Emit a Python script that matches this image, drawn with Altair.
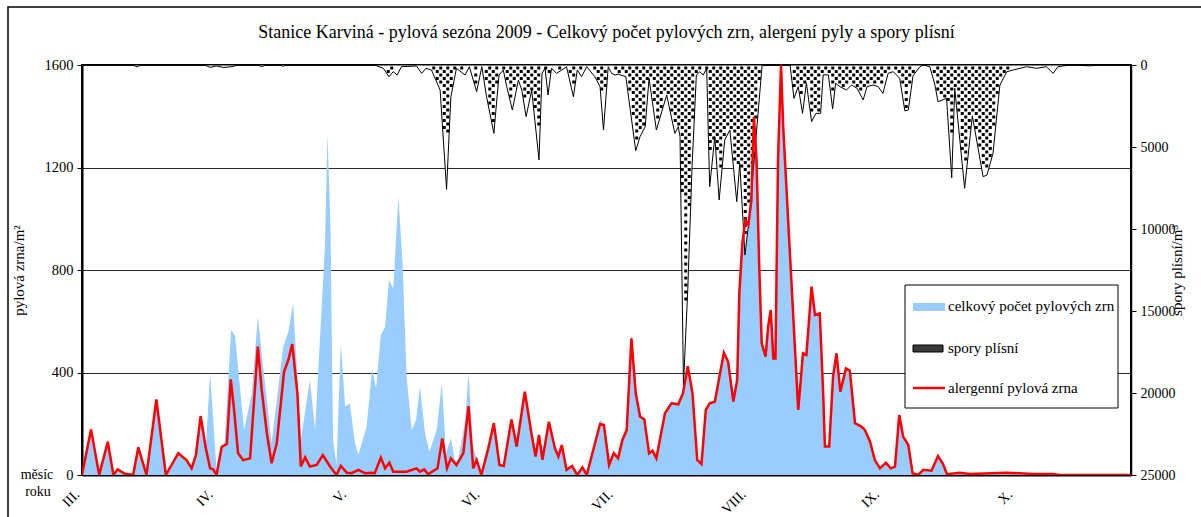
import altair as alt
import numpy as np
import pandas as pd

FONT = "Liberation Serif"
TITLE = "Stanice Karviná - pylová sezóna 2009 - Celkový počet pylových zrn, alergení pyly a spory plísní"

# Season axis: day 0 = 1 March 2009, day 244 = 31 October 2009
month_days = [0, 31, 62, 93, 124, 155, 186, 217]
month_labels = ["III.", "IV.", "V.", "VI.", "VII.", "VIII.", "IX.", "X."]

# Allergenic pollen grains per m3 (red line)
alerg_day = [0, 2.1, 4.0, 6.0, 7.3, 8.3, 10.0, 11.9, 13.1, 15.0, 17.3, 19.5, 22.4, 24.3, 25.5, 26.5,
             27.6, 28.8, 29.8, 30.5, 31.3, 32.5, 33.7, 34.6, 35.3, 36.3, 37.5, 39.1, 40.9, 41.8, 43.0,
             44.1, 45.3, 47.0, 48.0, 48.9, 50.1, 50.9, 51.9, 53.0, 54.6, 56.0, 57.7, 59.2, 60.2, 61.6,
             62.7, 64.3, 65.8, 67.4, 68.1, 69.5, 70.5, 71.5, 72.4, 75.5, 77.8, 78.6, 79.6, 80.5, 82.7,
             83.8, 84.9, 85.8, 87.1, 88.7, 89.9, 91.0, 91.8, 92.9, 94.5, 95.8, 97.1, 98.1, 99.9, 101.1,
             103.0, 104.6, 105.5, 106.3, 107.1, 108.6, 110.0, 110.8, 111.6, 112.7, 114.0, 115.2, 116.4,
             117.4, 120.5, 121.4, 122.6, 123.7, 124.7, 125.7, 126.7, 127.8, 128.8, 129.8, 130.8, 131.9,
             132.7, 133.6, 135.6, 137.1, 138.7, 139.8, 140.9, 142.0, 143.1, 144.1, 145.1, 146.0, 147.2,
             149.3, 150.3, 151.5, 152.4, 152.9, 153.6, 154.3, 155.0, 155.7, 156.3, 156.9, 157.5, 158.1,
             159.0, 159.6, 160.2, 160.8, 161.3, 161.9, 162.6, 163.1, 164.7, 166.6, 167.7, 168.5, 169.7,
             170.5, 171.6, 172.4, 172.8, 173.8, 174.7, 175.5, 176.4, 177.7, 178.6, 179.8, 181.3, 182.1,
             183.3, 184.4, 185.6, 187.0, 188.1, 189.1, 190.1, 191.0, 192.2, 193.2, 194.5, 195.7, 197.6,
             199.1, 200.2, 201.2, 204.2, 206.5, 215.0, 218.1, 221.2, 225.8, 227.4, 244]
alerg_val = [0, 178, 0, 130, 0, 22, 5, 0, 108, 0, 295, 0, 85, 58, 26, 78,
             230, 104, 26, 22, 0, 110, 121, 373, 267, 85, 58, 65, 501, 332, 163,
             46, 124, 403, 449, 511, 319, 33, 69, 33, 39, 78, 33, 0, 35, 9,
             7, 20, 7, 9, 7, 68, 26, 48, 13, 13, 26, 13, 22, 3, 26,
             143, 26, 65, 39, 85, 269, 26, 59, 0, 104, 202, 39, 35, 217, 111,
             325, 156, 72, 156, 59, 208, 104, 72, 117, 20, 35, 0, 30,
             0, 199, 195, 39, 85, 65, 137, 176, 533, 319, 228, 217, 85,
             95, 65, 241, 280, 276, 319, 425, 319, 59, 43, 254, 280, 286,
             477, 442, 286, 371, 709, 904, 995, 976, 1073, 1398, 1229, 826, 514,
             462, 579, 644, 455, 455, 1229, 1600, 1359, 852, 254, 475, 469, 735,
             624, 631, 319, 111, 111, 384, 475, 325, 416, 407, 202, 189, 176,
             130, 59, 26, 48, 26, 33, 234, 150, 117, 7, 0, 20, 17,
             74, 46, 3, 9, 4, 9, 7, 4, 4, 0, 0]

# Total pollen grains per m3 (blue area)
total_day = [0, 2.1, 4.0, 6.0, 7.3, 8.3, 10.0, 11.9, 13.1, 15.0, 17.3, 19.5, 22.4, 24.3, 25.5, 26.5,
             27.6, 28.8, 29.8, 31.3, 33.2, 34.7, 35.6, 37.7, 39.5, 40.9, 41.8, 44.1, 46.8, 48.0, 49.1,
             50.3, 50.9, 53.0, 54.2, 55.3, 56.5, 57.1, 57.8, 58.4, 59.2, 60.2, 61.2, 62.3, 63.5, 64.3,
             66.2, 67.5, 68.4, 69.5, 70.5, 71.4, 72.4, 73.6, 74.6, 75.5, 76.7, 77.7, 78.6, 79.8, 80.8,
             82.5, 83.7, 84.7, 85.8, 86.7, 87.3, 89.1, 89.9, 90.9, 91.4, 92.9, 94.5, 95.8, 97.1, 98.1,
             99.9, 101.1, 103.0, 104.6, 105.5, 106.3, 107.1, 108.6, 110.0, 110.8, 111.6, 112.7, 114.0,
             115.2, 116.4, 117.4, 120.5, 121.4, 122.6, 123.7, 124.7, 125.7, 126.7, 127.8, 128.8, 129.8,
             130.8, 131.9, 132.7, 133.6, 135.6, 137.1, 138.7, 139.8, 140.9, 142.0, 143.1, 144.1, 145.1,
             146.0, 147.2, 149.3, 150.3, 151.5, 152.4, 152.9, 153.6, 154.3, 155.0, 155.7, 156.3, 156.9,
             157.5, 158.1, 159.0, 159.6, 160.2, 160.8, 161.3, 161.9, 162.6, 163.1, 164.7, 166.6, 167.7,
             168.5, 169.7, 170.5, 171.6, 172.4, 172.8, 173.8, 174.7, 175.5, 176.4, 177.7, 178.6, 179.8,
             181.3, 182.1, 183.3, 184.4, 185.6, 187.0, 188.1, 189.1, 190.1, 191.0, 192.2, 193.2, 194.5,
             195.7, 197.6, 199.1, 200.2, 201.2, 204.2, 206.5, 215.0, 218.1, 221.2, 225.8, 227.4, 244]
total_val = [0, 178, 0, 130, 0, 22, 5, 0, 108, 0, 295, 0, 85, 58, 26, 78,
             230, 104, 397, 20, 136, 566, 542, 176, 319, 618, 475, 124, 501, 559, 670,
             319, 137, 371, 176, 514, 891, 1333, 969, 137, 39, 514, 267, 280, 124, 78,
             189, 416, 338, 546, 579, 761, 728, 1086, 813, 384, 176, 215, 345, 163, 91,
             176, 358, 85, 143, 59, 45, 208, 397, 124, 85, 0, 104, 210, 39, 35,
             225, 111, 330, 156, 72, 156, 59, 212, 104, 72, 117, 20, 35,
             0, 30, 0, 215, 200, 39, 85, 65, 137, 176, 550, 325, 235,
             220, 85, 95, 65, 241, 285, 280, 325, 430, 319, 59, 43, 254,
             285, 290, 485, 442, 286, 371, 709, 904, 995, 976, 1073, 1398, 1229,
             826, 514, 462, 579, 644, 455, 455, 1229, 1600, 1359, 852, 254, 485,
             475, 745, 630, 635, 319, 111, 111, 384, 475, 325, 420, 410, 210,
             195, 180, 135, 59, 26, 48, 26, 33, 234, 150, 117, 7, 0,
             20, 17, 74, 46, 3, 9, 4, 9, 7, 4, 4, 0, 0]

# Mould spores per m3 (right axis, hanging from the top)
spore_day = [0, 11.9, 12.8, 13.7, 28.6, 29.8, 31.2, 33.0, 34.9, 36.3, 40.9, 41.8, 42.8, 46.3, 46.7,
             47.2, 68.1, 70.1, 71.4, 72.4, 73.3, 74.3, 77.8, 79.0, 80.0, 81.3, 83.3, 84.8, 85.8, 87.1,
             89.1, 90.1, 91.8, 93.0, 94.1, 95.8, 97.0, 98.0, 98.8, 100.1, 101.5, 102.3, 103.3, 104.6,
             106.3, 107.0, 107.7, 108.4, 109.2, 110.4, 111.6, 112.7, 114.3, 115.2, 116.2, 117.4, 119.3,
             120.5, 121.3, 122.4, 123.2, 124.0, 124.7, 126.5, 128.8, 129.8, 131.0, 131.9, 133.6, 135.2,
             136.0, 137.9, 138.7, 139.1, 139.9, 140.9, 141.9, 142.9, 143.7, 144.5, 145.3, 146.0, 147.2,
             148.2, 149.5, 150.7, 152.3, 153.0, 154.2, 155.2, 158.2, 164.7, 165.6, 166.6, 167.6, 168.5,
             169.7, 170.7, 171.8, 172.4, 173.6, 174.6, 175.3, 176.3, 177.8, 179.0, 180.3, 181.7, 182.6,
             184.0, 185.2, 186.3, 187.5, 188.7, 190.2, 191.4, 192.2, 193.3, 194.9, 195.7, 197.2, 198.4,
             199.1, 201.1, 202.3, 203.0, 205.3, 207.1, 209.6, 210.5, 211.9, 213.5, 215.1, 216.6, 219.7,
             222.0, 224.3, 225.9, 227.0, 229.8, 234.4, 236.7, 244]
spore_val = [0, 0, 120, 0, 0, 150, 60, 150, 100, 0, 0, 100, 0, 0, 100,
             0, 0, 203, 712, 407, 610, 102, 61, 508, 203, 305, 1525, 7580, 1932, 203,
             610, 102, 1626, 102, 1932, 4167, 610, 305, 1322, 2745, 915, 1525, 3150, 1525,
             5793, 508, 203, 1830, 203, 508, 305, 102, 1932, 305, 712, 102, 712,
             1322, 3964, 102, 508, 610, 560, 712, 5224, 4370, 3760, 813, 3964, 2542,
             1830, 4167, 3760, 4370, 19500, 13700, 6200, 610, 407, 610, 203, 7420, 4370,
             8230, 4573, 3964, 8335, 5996, 11590, 9350, 0, 0, 2033, 1322, 2948, 1100,
             3456, 2948, 2948, 600, 600, 2680, 1118, 1320, 1525, 1220, 1422, 2135, 1320,
             1220, 1322, 1728, 508, 407, 813, 2800, 2745, 650, 102, 0, 102, 1220,
             2236, 2033, 6880, 1423, 7520, 3100, 6810, 6710, 5390, 1220, 407, 305, 102,
             203, 102, 508, 102, 0, 50, 0, 0]

W, H = 1049, 410
DAY_MAX = 244
SPORE_MAX = 25000

alerg = pd.DataFrame({"den": alerg_day, "pyl": alerg_val})
total = pd.DataFrame({"den": total_day, "pyl": total_val})
spores = pd.DataFrame({"den": spore_day, "spory": spore_val})

# Dot texture for the spore area: a staggered grid of small squares kept
# only where it lies inside the spore curve
px_day = W / DAY_MAX
px_spore = H / SPORE_MAX
step_x = 7 / px_day
step_y = 3.5 / px_spore
half_x = 1.4 / px_day
half_y = 1.4 / px_spore
sd = np.array(spore_day, dtype=float)
sv = np.array(spore_val, dtype=float)
dot_x, dot_y = [], []
row = 0
yy = 3 / px_spore
while yy < sv.max():
    start = (row % 2) * step_x / 2 + step_x / 4
    for xx in np.arange(start, DAY_MAX, step_x):
        lim = min(np.interp(xx - half_x, sd, sv), np.interp(xx, sd, sv), np.interp(xx + half_x, sd, sv))
        if yy + half_y < lim:
            dot_x.append(xx)
            dot_y.append(yy)
    yy += step_y
    row += 1
dots = pd.DataFrame({"den": dot_x, "spory": dot_y})

label_expr = "[" + ",".join("'%s'" % m for m in month_labels) + "][round(datum.value / 31)]"

x_enc = alt.X(
    "den:Q",
    scale=alt.Scale(domain=[0, DAY_MAX], nice=False, zero=False),
    axis=alt.Axis(
        values=month_days, labelExpr=label_expr, labelAngle=315, labelAlign="right",
        labelBaseline="middle", ticks=False, labelPadding=17, labelOffset=-5, grid=False,
        domainColor="black", domainWidth=2, labelFont=FONT, labelFontSize=14,
        labelColor="black", title=None,
    ),
)

pollen_scale = alt.Scale(domain=[0, 1600], nice=False, zero=True)
spore_scale = alt.Scale(domain=[0, SPORE_MAX], nice=False, reverse=True)

left_axis = alt.Axis(
    orient="left", values=[0, 400, 800, 1200, 1600], format="d", grid=True, gridColor="#2a2a2a",
    gridWidth=1, domainColor="black", domainWidth=2, tickColor="black", tickSize=5,
    labelFont=FONT, labelFontSize=14.5, labelColor="black", labelPadding=4,
    title="pylová zrna/m²", titleFont=FONT, titleFontSize=15, titleFontWeight="normal",
    titleColor="black", titlePadding=18,
)
right_axis = alt.Axis(
    orient="right", values=[0, 5000, 10000, 15000, 20000, 25000], format="d", grid=False,
    domainColor="black", domainWidth=1.5, tickColor="black", tickSize=5,
    labelFont=FONT, labelFontSize=14, labelColor="black", labelPadding=4,
    title="spory plísní/m³", titleFont=FONT, titleFontSize=15, titleFontWeight="normal",
    titleColor="black", titlePadding=9, titleAngle=270,
)

blue = alt.Chart(total).mark_area(color="#99ccff", opacity=1, clip=True).encode(
    x=x_enc, y=alt.Y("pyl:Q", scale=pollen_scale, axis=left_axis)
)
spore_area = alt.Chart(spores).mark_area(
    fill="white", fillOpacity=1, stroke="black", strokeWidth=1
).encode(x=x_enc, y=alt.Y("spory:Q", scale=spore_scale, axis=right_axis))
spore_dots = alt.Chart(dots).mark_square(size=9, color="black", opacity=1).encode(
    x=x_enc, y=alt.Y("spory:Q", scale=spore_scale, axis=None)
)
red = alt.Chart(alerg).mark_line(color="#ff0000", strokeWidth=2.5, clip=True).encode(
    x=x_enc, y=alt.Y("pyl:Q", scale=pollen_scale, axis=None)
)

one = alt.Data(values=[{}])

frame = alt.Chart(one).mark_rect(fillOpacity=0, stroke="black", strokeWidth=1.5).encode(
    x=alt.value(-74), x2=alt.value(1200), y=alt.value(-58), y2=alt.value(600)
)
legend_box = alt.Chart(one).mark_rect(fill="white", stroke="black", strokeWidth=1).encode(
    x=alt.value(823), x2=alt.value(1036), y=alt.value(220), y2=alt.value(343)
)
sw_blue = alt.Chart(one).mark_rect(fill="#99ccff").encode(
    x=alt.value(831), x2=alt.value(863), y=alt.value(238), y2=alt.value(246)
)
sw_spore = alt.Chart(one).mark_rect(fill="#3a3a3a", stroke="black", strokeWidth=1).encode(
    x=alt.value(831), x2=alt.value(861), y=alt.value(280), y2=alt.value(287)
)
sw_red = alt.Chart(one).mark_rule(color="#ff0000", strokeWidth=2.5).encode(
    x=alt.value(831), x2=alt.value(863), y=alt.value(323)
)


def text_at(txt, x, y, align="left", size=14):
    return alt.Chart(one).mark_text(
        text=txt, font=FONT, fontSize=size, align=align, baseline="middle", color="black"
    ).encode(x=alt.value(x), y=alt.value(y))


title_text = text_at(TITLE, W / 2, -32, align="center", size=18)
legend_texts = [
    text_at("celkový počet pylových zrn", 866, 241, size=15),
    text_at("spory plísní", 866, 283, size=15),
    text_at("alergenní pylová zrna", 866, 323, size=15),
]
corner = [
    text_at("měsíc", -45, 410, align="center", size=14),
    text_at("roku", -44, 427, align="center", size=14),
]

chart = alt.layer(
    blue, spore_area, spore_dots, red, frame, legend_box, sw_blue, sw_spore, sw_red,
    title_text, *legend_texts, *corner,
).resolve_scale(y="independent").properties(
    width=W,
    height=H,
    autosize=alt.AutoSizeParams(type="none"),
    padding={"left": 82, "top": 65, "right": 70, "bottom": 42},
    background="white",
).configure_view(stroke="black", strokeWidth=2)

chart.save("out.html", embed_options={"renderer": "svg", "actions": False})
